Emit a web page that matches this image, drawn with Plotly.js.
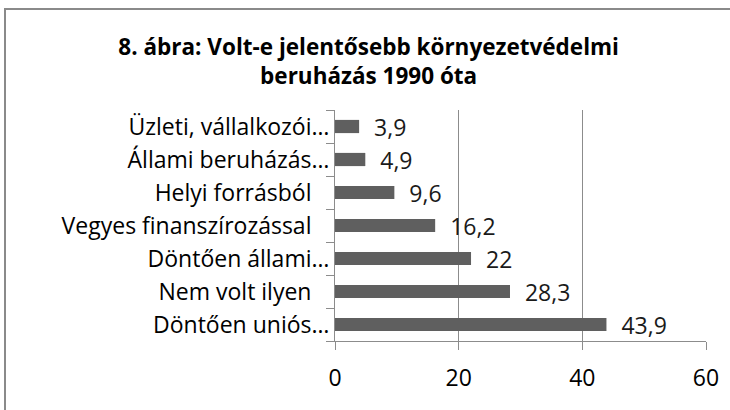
<!DOCTYPE html>
<html>
<head>
<meta charset="utf-8">
<script src="https://cdn.plot.ly/plotly-3.0.1.min.js"></script>
<style>
  html, body { margin: 0; padding: 0; background: #fff; }
  #wrap { position: relative; width: 730px; height: 410px; overflow: hidden; }
  #chart { width: 730px; height: 410px; }
  #frame { position: absolute; left: 4px; top: 8px; width: 800px; height: 500px;
           border-left: 2px solid #8a8a8a; border-top: 2px solid #8a8a8a; pointer-events: none; }
</style>
</head>
<body>
<div id="wrap">
  <div id="chart"></div>
  <div id="frame"></div>
</div>
<script>
const categories = [
  "Döntően uniós…",
  "Nem volt ilyen",
  "Döntően állami…",
  "Vegyes finanszírozással",
  "Helyi forrásból",
  "Állami beruházás…",
  "Üzleti, vállalkozói…"
];
const values = [43.9, 28.3, 22, 16.2, 9.6, 4.9, 3.9];
// category labels as printed (untruncated ones carry a trailing space in the source)
const categoryLabels = categories.map(c => c.endsWith("…") ? c : c + "\u00a0\u00a0\u00a0");
const valueLabels = values.map(v => "\u00a0\u00a0" + String(v).replace(".", ","));
const xTicks = [0, 20, 40, 60];

const font = "Open Sans, Noto Sans, sans-serif";

Plotly.newPlot("chart", [{
  type: "bar",
  orientation: "h",
  y: categories,
  x: values,
  text: valueLabels,
  textposition: "outside",
  constraintext: "none",
  cliponaxis: false,
  textfont: { family: font, size: 23, color: "#1a1a1a" },
  marker: { color: "#5f5f5f" },
  hoverinfo: "skip"
}], {
  width: 730, height: 410,
  margin: { l: 335, r: 24, t: 110, b: 69 },
  paper_bgcolor: "#fff",
  plot_bgcolor: "#fff",
  bargap: 0.6,
  showlegend: false,
  title: {
    text: "<b>8. ábra: Volt-e jelentősebb környezetvédelmi<br>beruházás 1990 óta</b>",
    font: { family: font, size: 22.5, color: "#000" },
    x: 0.505, xanchor: "center",
    y: 0.866, yanchor: "middle"
  },
  xaxis: {
    range: [0, 60],
    tickvals: xTicks,
    ticktext: xTicks.map(String),
    showgrid: true,
    gridcolor: "#8c8c8c",
    gridwidth: 1,
    zeroline: false,
    showline: true,
    linecolor: "#8c8c8c",
    ticks: "outside",
    ticklen: 8,
    tickcolor: "#8c8c8c",
    ticklabelstandoff: 8,
    tickfont: { family: font, size: 23, color: "#000" },
    fixedrange: true
  },
  yaxis: {
    type: "category",
    categoryorder: "array",
    categoryarray: categories,
    tickvals: categories,
    ticktext: categoryLabels,
    showline: true,
    linecolor: "#8c8c8c",
    ticks: "outside",
    tickson: "boundaries",
    ticklen: 8,
    tickcolor: "#8c8c8c",
    showgrid: false,
    ticklabelstandoff: 0,
    tickfont: { family: font, size: 23, color: "#000" },
    fixedrange: true
  }
}, { displayModeBar: false, staticPlot: true });
</script>
</body>
</html>
